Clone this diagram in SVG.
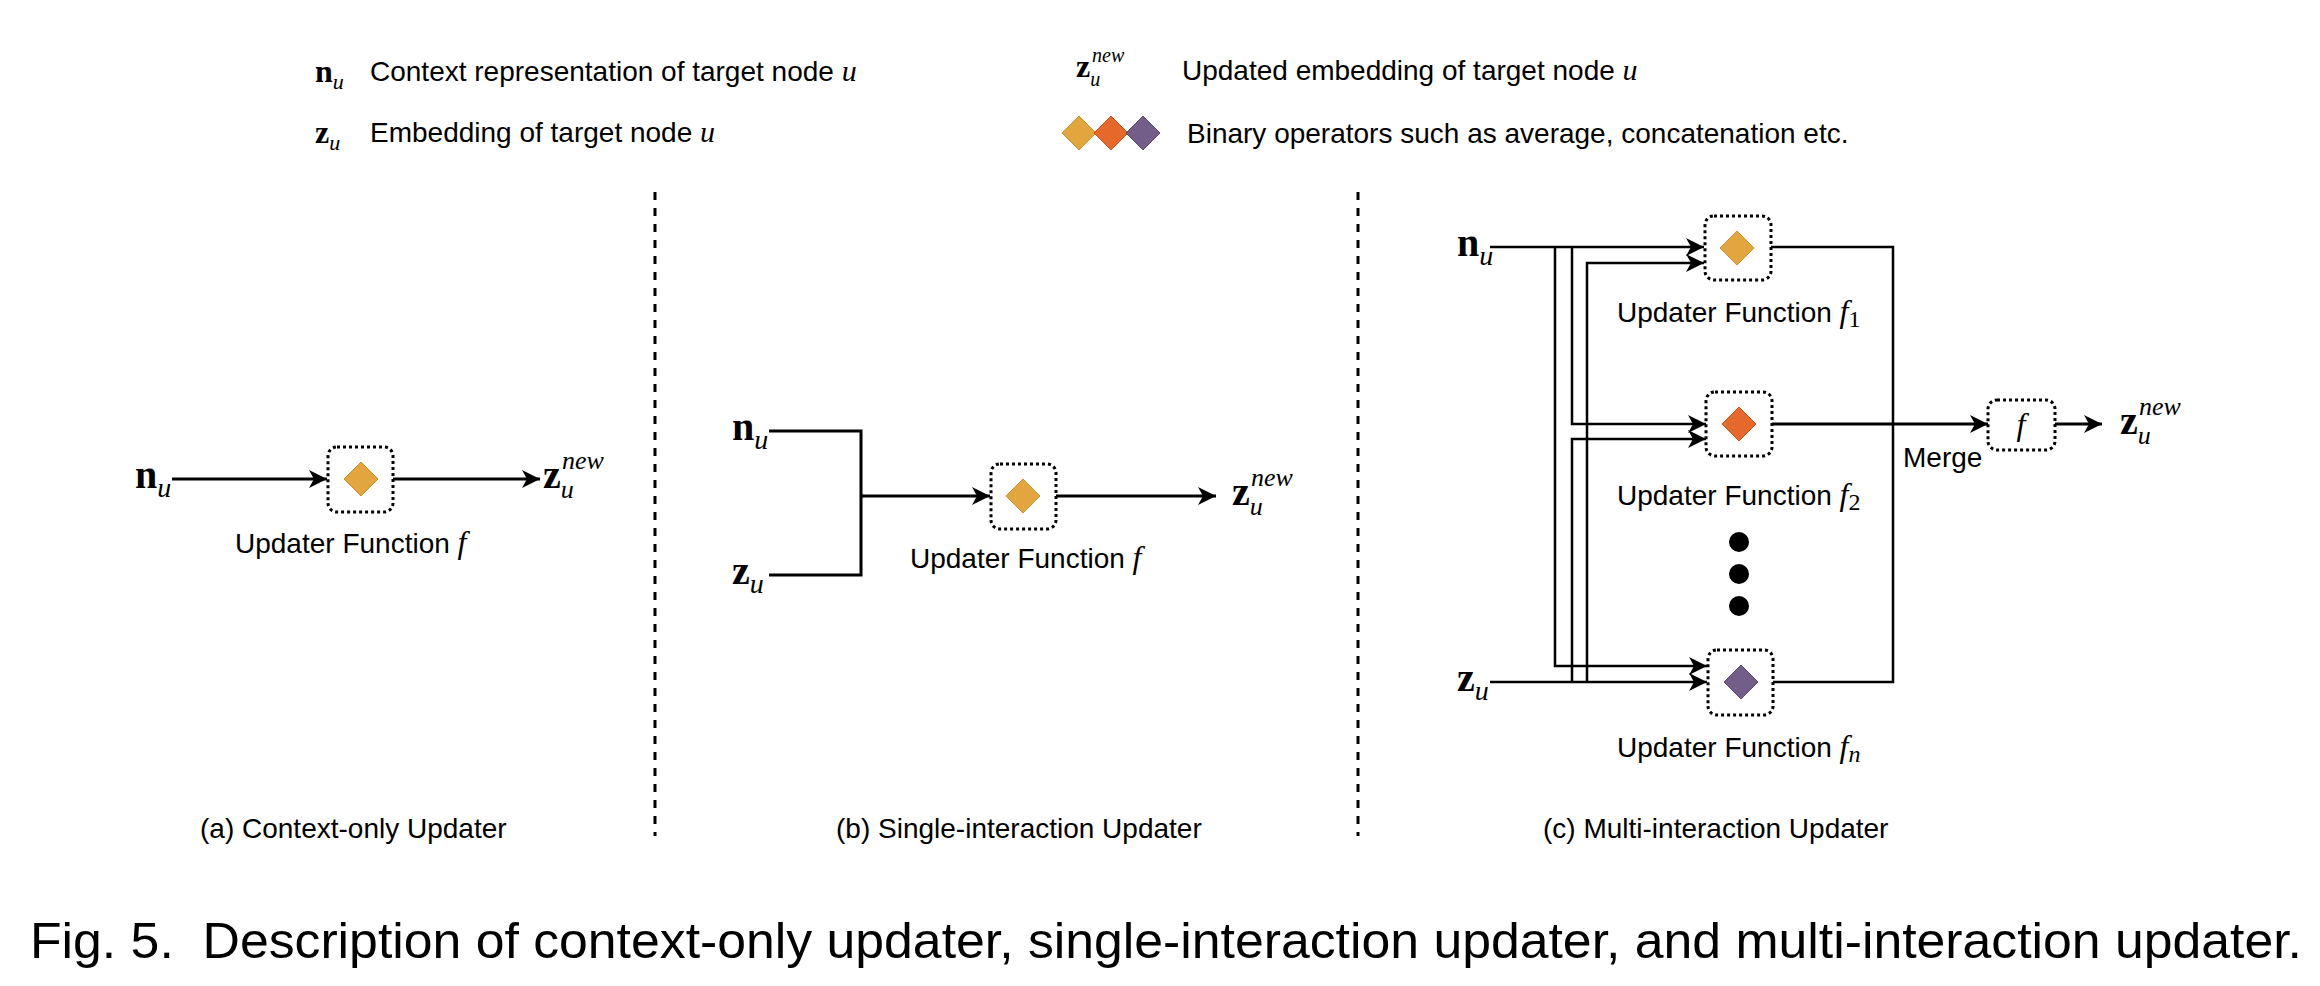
<svg xmlns="http://www.w3.org/2000/svg" width="2320" height="986" viewBox="0 0 2320 986">
<style>
.t{font-family:"Liberation Sans",Arial,sans-serif;font-size:28px;fill:#000}
.m{font-family:"Liberation Serif","Times New Roman",serif;font-style:normal;font-weight:normal;fill:#000}
.mb{font-family:"Liberation Serif","Times New Roman",serif;font-weight:bold;fill:#000}
.mi{font-family:"Liberation Serif","Times New Roman",serif;font-style:italic;font-weight:normal;fill:#000}
.ln{fill:none;stroke:#000;stroke-width:3}
.lc{fill:none;stroke:#000;stroke-width:2.5}
.box{fill:#fff;stroke:#000;stroke-width:3;stroke-dasharray:3 3}
.sep{stroke:#000;stroke-width:3;stroke-dasharray:8 8}
.d1{fill:#E3A63E;stroke:#CC8F2A;stroke-width:1}
.d2{fill:#E6692B;stroke:#C9541A;stroke-width:1}
.d3{fill:#735E8A;stroke:#5A4870;stroke-width:1}
</style>
<defs>
<marker id="arr" markerUnits="userSpaceOnUse" markerWidth="19" markerHeight="18" refX="18" refY="9" orient="auto">
<path d="M0,0 L18,9 L0,18 L5,9 Z" fill="#000"/>
</marker>
</defs>
<rect width="2320" height="986" fill="#fff"/>

<g id="legend">
<text class="mb" x="315" y="82" font-size="32">n<tspan class="mi" font-size="22" dy="7">u</tspan></text>
<text class="t" x="370" y="81">Context representation of target node <tspan class="mi" font-size="30">u</tspan></text>
<text class="mb" x="315" y="143" font-size="32">z<tspan class="mi" font-size="22" dy="7">u</tspan></text>
<text class="t" x="370" y="142">Embedding of target node <tspan class="mi" font-size="30">u</tspan></text>
<text class="mb" x="1076" y="77" font-size="32">z<tspan class="mi" font-size="20" dy="9">u</tspan><tspan class="mi" font-size="20" x="1092" dy="-24">new</tspan></text>
<text class="t" x="1182" y="80">Updated embedding of target node <tspan class="mi" font-size="30">u</tspan></text>
<path class="d1" d="M1079,116 L1096,133 L1079,150 L1062,133 Z"/>
<path class="d2" d="M1111,116 L1128,133 L1111,150 L1094,133 Z"/>
<path class="d3" d="M1143,116 L1160,133 L1143,150 L1126,133 Z"/>
<text class="t" x="1187" y="143">Binary operators such as average, concatenation etc.</text>
</g>

<g id="separators">
<line class="sep" x1="655" y1="192" x2="655" y2="836"/>
<line class="sep" x1="1358" y1="192" x2="1358" y2="836"/>
</g>

<g id="connectors">
<path class="ln" d="M172,479 H327" marker-end="url(#arr)"/>
<path class="ln" d="M393,479 H540" marker-end="url(#arr)"/>
<path class="ln" d="M769,431 H861 V575 H769"/>
<path class="ln" d="M861,496 H990" marker-end="url(#arr)"/>
<path class="ln" d="M1056,496 H1216" marker-end="url(#arr)"/>
<path class="lc" d="M1490,247 H1704" marker-end="url(#arr)"/>
<path class="lc" d="M1555,247 V666 H1707" marker-end="url(#arr)"/>
<path class="lc" d="M1572,247 V424 H1706" marker-end="url(#arr)"/>
<path class="lc" d="M1490,682 H1707" marker-end="url(#arr)"/>
<path class="lc" d="M1587,682 V263 H1704" marker-end="url(#arr)"/>
<path class="lc" d="M1572,682 V439 H1706" marker-end="url(#arr)"/>
<path class="lc" d="M1771,247 H1893 V682 H1773"/>
<path class="ln" d="M1772,424 H1988" marker-end="url(#arr)"/>
<path class="ln" d="M2055,424 H2102" marker-end="url(#arr)"/>
</g>

<g id="panel-a">
<text class="mb" x="135" y="488" font-size="40">n<tspan class="mi" font-size="28" dy="9">u</tspan></text>
<g id="a-updater">
<rect class="box" x="328" y="447" width="65" height="65" rx="9"/>
<path class="d1" d="M361,462 L378,479 L361,496 L344,479 Z"/>
</g>
<text class="t" x="235" y="553">Updater Function <tspan class="mi" font-size="32">f</tspan></text>
<text class="mb" x="543" y="488" font-size="40">z<tspan class="mi" font-size="26" dy="10">u</tspan><tspan class="mi" font-size="26" x="562" dy="-29">new</tspan></text>
<text class="t" x="200" y="838">(a) Context-only Updater</text>
</g>

<g id="panel-b">
<text class="mb" x="732" y="440" font-size="40">n<tspan class="mi" font-size="28" dy="9">u</tspan></text>
<text class="mb" x="732" y="584" font-size="40">z<tspan class="mi" font-size="28" dy="9">u</tspan></text>
<g id="b-updater">
<rect class="box" x="991" y="464" width="65" height="65" rx="9"/>
<path class="d1" d="M1023,479 L1040,496 L1023,513 L1006,496 Z"/>
</g>
<text class="t" x="910" y="568">Updater Function <tspan class="mi" font-size="32">f</tspan></text>
<text class="mb" x="1232" y="505" font-size="40">z<tspan class="mi" font-size="26" dy="10">u</tspan><tspan class="mi" font-size="26" x="1251" dy="-29">new</tspan></text>
<text class="t" x="836" y="838">(b) Single-interaction Updater</text>
</g>

<g id="panel-c">
<text class="mb" x="1457" y="256" font-size="40">n<tspan class="mi" font-size="28" dy="9">u</tspan></text>
<text class="mb" x="1457" y="691" font-size="40">z<tspan class="mi" font-size="28" dy="9">u</tspan></text>
<g id="c-f1">
<rect class="box" x="1705" y="216" width="66" height="64" rx="9"/>
<path class="d1" d="M1737,231 L1754,248 L1737,265 L1720,248 Z"/>
<text class="t" x="1617" y="322">Updater Function <tspan class="mi" font-size="32">f</tspan><tspan class="m" font-size="24" dy="5">1</tspan></text>
</g>
<g id="c-f2">
<rect class="box" x="1706" y="392" width="66" height="64" rx="9"/>
<path class="d2" d="M1739,407 L1756,424 L1739,441 L1722,424 Z"/>
<text class="t" x="1617" y="505">Updater Function <tspan class="mi" font-size="32">f</tspan><tspan class="m" font-size="24" dy="5">2</tspan></text>
</g>
<g id="c-dots">
<circle cx="1739" cy="542" r="10"/>
<circle cx="1739" cy="574" r="10"/>
<circle cx="1739" cy="606" r="10"/>
</g>
<g id="c-fn">
<rect class="box" x="1708" y="650" width="65" height="65" rx="9"/>
<path class="d3" d="M1741,665 L1758,682 L1741,699 L1724,682 Z"/>
<text class="t" x="1617" y="757">Updater Function <tspan class="mi" font-size="32">f</tspan><tspan class="mi" font-size="24" dy="5">n</tspan></text>
</g>
<text class="t" x="1903" y="467">Merge</text>
<g id="c-merge">
<rect class="box" x="1988" y="400" width="67" height="50" rx="9"/>
<text class="mi" x="2021" y="435" font-size="32" text-anchor="middle">f</text>
</g>
<text class="mb" x="2120" y="434" font-size="40">z<tspan class="mi" font-size="26" dy="10">u</tspan><tspan class="mi" font-size="26" x="2139" dy="-29">new</tspan></text>
<text class="t" x="1543" y="838">(c) Multi-interaction Updater</text>
</g>

<text class="t" x="30" y="958" xml:space="preserve" style="font-size:50px" textLength="2272" lengthAdjust="spacingAndGlyphs">Fig. 5.  Description of context-only updater, single-interaction updater, and multi-interaction updater.</text>
</svg>
